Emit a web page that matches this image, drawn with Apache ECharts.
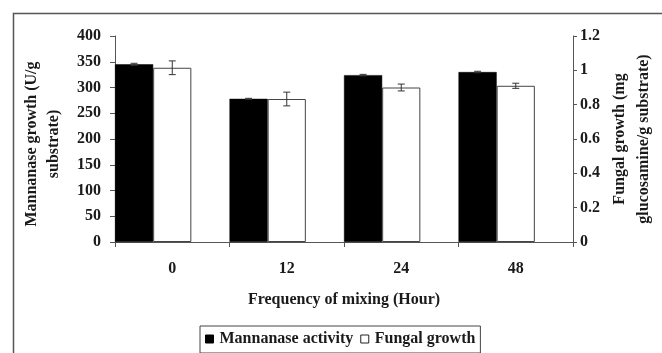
<!DOCTYPE html>
<html>
<head>
<meta charset="utf-8">
<script src="https://cdn.jsdelivr.net/npm/echarts@6/dist/echarts.min.js"></script>
<style>html,body{margin:0;padding:0;background:#fff}#c{width:662px;height:353px}</style>
</head>
<body>
<div id="c"></div>
<script>
var categories = ['0', '12', '24', '48'];
var mannanase = [345, 278, 324, 330];
var mannanaseErr = [2, 1, 1.5, 1.5];
var fungal = [1.015, 0.833, 0.90, 0.91];
var fungalErr = [0.04, 0.04, 0.02, 0.015];
var leftTicks = {min: 0, max: 400, interval: 50};
var rightTicks = {min: 0, max: 1.2, interval: 0.2};

var FONT = 'Liberation Serif';
var axisCol = '#555';
var txtCol = '#1a1a1a';

function errData(vals, errs) {
  return vals.map(function (v, i) { return [i, v, errs[i]]; });
}
function makeErr(slotOffset) {
  return function (params, api) {
    var idx = api.value(0), v = api.value(1), e = api.value(2);
    var bw = api.size([1, 0])[0];
    var off = slotOffset * bw / 3;
    var top = api.coord([idx, v + e]);
    var bot = api.coord([idx, v - e]);
    var x = top[0] + off;
    var hw = 3.5;
    var st = {stroke: '#333', lineWidth: 1};
    return {type: 'group', children: [
      {type: 'line', shape: {x1: x, y1: top[1], x2: x, y2: bot[1]}, style: st},
      {type: 'line', shape: {x1: x - hw, y1: top[1], x2: x + hw, y2: top[1]}, style: st},
      {type: 'line', shape: {x1: x - hw, y1: bot[1], x2: x + hw, y2: bot[1]}, style: st}
    ]};
  };
}

var chart = echarts.init(document.getElementById('c'), null, {renderer: 'canvas'});
chart.setOption({
  backgroundColor: '#fff',
  animation: false,
  textStyle: {fontFamily: FONT},
  grid: {left: 115, right: 89, top: 36, bottom: 111, containLabel: false},
  graphic: [
    {type: 'rect', left: 11, top: 11, shape: {width: 720, height: 420}, style: {fill: 'none', stroke: '#555', lineWidth: 1.5}, silent: true},
    {type: 'text', x: 43, y: 144, rotation: Math.PI / 2,
      style: {text: 'Mannanase growth (U/g\nsubstrate)', font: 'bold 16px "Liberation Serif"', fill: txtCol, align: 'center', verticalAlign: 'middle', lineHeight: 22}},
    {type: 'text', x: 632, y: 139, rotation: Math.PI / 2,
      style: {text: 'Fungal growth (mg\nglucosamine/g substrate)', font: 'bold 16px "Liberation Serif"', fill: txtCol, align: 'center', verticalAlign: 'middle', lineHeight: 24}}
  ],
  legend: {
    left: 200, top: 326,
    data: [
      {name: 'Mannanase activity', itemStyle: {color: '#000', borderColor: '#000', borderWidth: 1}},
      {name: 'Fungal growth', itemStyle: {color: '#fff', borderColor: '#222', borderWidth: 1}}
    ],
    icon: 'rect', itemWidth: 8, itemHeight: 8, itemGap: 7,
    borderColor: '#444', borderWidth: 1, padding: [5, 5, 6, 5],
    textStyle: {fontFamily: FONT, fontWeight: 'bold', fontSize: 16, color: txtCol, padding: [0, 0, 0, 1]}
  },
  xAxis: {
    type: 'category', data: categories,
    axisLine: {lineStyle: {color: axisCol, width: 1}},
    axisTick: {show: true, length: 5, lineStyle: {color: axisCol}},
    axisLabel: {fontFamily: FONT, fontWeight: 'bold', fontSize: 16, color: txtCol, margin: 19},
    name: 'Frequency of mixing (Hour)', nameLocation: 'middle', nameGap: 50,
    nameTextStyle: {fontFamily: FONT, fontWeight: 'bold', fontSize: 16, color: txtCol}
  },
  yAxis: [
    {type: 'value', position: 'left', min: leftTicks.min, max: leftTicks.max, interval: leftTicks.interval,
      axisLine: {show: true, lineStyle: {color: axisCol}},
      axisTick: {show: true, length: 5, lineStyle: {color: axisCol}},
      splitLine: {show: false},
      axisLabel: {fontFamily: FONT, fontWeight: 'bold', fontSize: 16, color: txtCol, margin: 14}},
    {type: 'value', position: 'right', min: rightTicks.min, max: rightTicks.max, interval: rightTicks.interval,
      axisLine: {show: true, lineStyle: {color: axisCol}},
      axisTick: {show: true, length: 4, lineStyle: {color: axisCol}},
      splitLine: {show: false},
      axisLabel: {fontFamily: FONT, fontWeight: 'bold', fontSize: 16, color: txtCol, margin: 7}}
  ],
  series: [
    {name: 'Mannanase activity', type: 'bar', yAxisIndex: 0, data: mannanase,
      barGap: '0%', barCategoryGap: '0%',
      itemStyle: {color: '#000', borderColor: '#000', borderWidth: 0.5}},
    {name: 'Fungal growth', type: 'bar', yAxisIndex: 1, data: fungal,
      barGap: '0%', barCategoryGap: '0%',
      itemStyle: {color: '#fff', borderColor: '#444', borderWidth: 1}},
    {name: 'spacer', type: 'bar', yAxisIndex: 0, data: categories.map(function () { return '-'; }),
      barGap: '0%', barCategoryGap: '0%', silent: true, itemStyle: {color: 'transparent'}},
    {name: 'mErr', type: 'custom', yAxisIndex: 0, data: errData(mannanase, mannanaseErr),
      renderItem: makeErr(-1), z: 5, silent: true},
    {name: 'fErr', type: 'custom', yAxisIndex: 1, data: errData(fungal, fungalErr),
      renderItem: makeErr(0), z: 5, silent: true}
  ]
});
</script>
</body>
</html>
